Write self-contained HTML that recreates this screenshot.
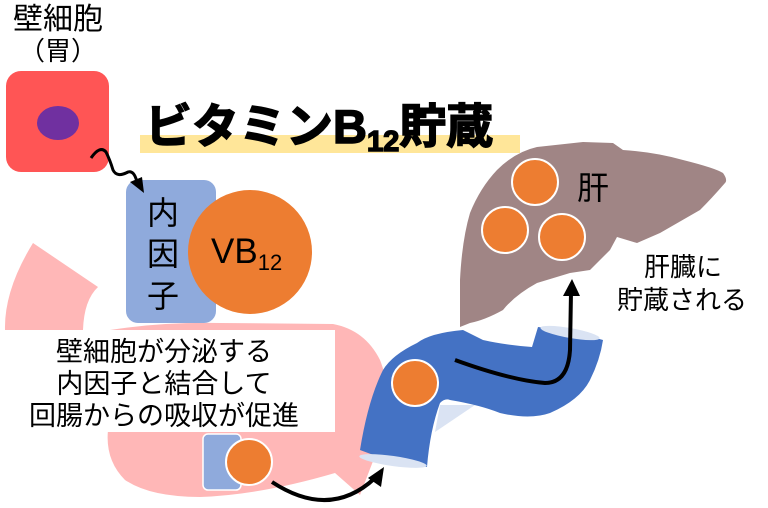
<!DOCTYPE html>
<html><head><meta charset="utf-8"><style>
html,body{margin:0;padding:0;background:#fff;}
svg{display:block;}
text{font-family:"Liberation Sans","Noto Sans CJK JP",sans-serif;}
</style></head><body>
<svg width="768" height="508" viewBox="0 0 768 508" xmlns="http://www.w3.org/2000/svg">
<!-- pink stomach pieces -->
<path d="M33,243 L98,287 Q84,300 83,330 L5,330 Q4,290 33,243 Z" fill="#FFB7B7"/>
<path d="M110,330 Q160,322 220,323 L333,324 Q365,330 380,360 Q392,390 385,430 L360,495 L335,473 Q260,495 200,497 Q150,497 125,480 Q105,460 108,430 Z" fill="#FFB7B7"/>
<!-- text box -->
<rect x="0" y="330" width="335" height="102" fill="#fff"/>
<text x="164" y="361" font-size="27" text-anchor="middle">壁細胞が分泌する</text>
<text x="164" y="393" font-size="27" text-anchor="middle">内因子と結合して</text>
<text x="164" y="425" font-size="27" text-anchor="middle">回腸からの吸収が促進</text>
<!-- small box+circle -->
<rect x="203" y="434" width="38" height="56" rx="5" fill="#8FAADC" stroke="#fff" stroke-width="1.5"/>
<circle cx="249" cy="462" r="23" fill="#ED7D31" stroke="#fff" stroke-width="2"/>
<!-- arrow to tube -->
<path d="M272,482 Q330,520 375,478" fill="none" stroke="#000" stroke-width="4"/>
<polygon points="384,467 381,487 368,478" fill="#000"/>
<!-- title -->
<rect x="140" y="135" width="380" height="18" fill="#FFE699"/>
<text x="145" y="143" font-size="47" font-weight="bold" font-family="'Noto Sans CJK JP',sans-serif" stroke="#000" stroke-width="1.5">ビタミンB<tspan font-size="29" dy="8">12</tspan><tspan dy="-8">貯蔵</tspan></text>
<!-- parietal cell -->
<text x="58" y="29" font-size="30" text-anchor="middle">壁細胞</text>
<text x="58" y="60" font-size="26" text-anchor="middle">（胃）</text>
<rect x="6" y="71" width="103" height="101" rx="15" fill="#FF5555"/>
<ellipse cx="58" cy="123" rx="21" ry="17" fill="#7030A0"/>
<!-- intrinsic factor -->
<rect x="126" y="180" width="90" height="143" rx="12" fill="#8FAADC"/>
<path d="M91,158 Q100,145 106,152 Q110,160 113,170 Q117,178 128,172 Q134,170 137,182" fill="none" stroke="#000" stroke-width="3"/>
<polygon points="144,193 130,182 142,177" fill="#000"/>
<text x="163" y="224" font-size="32" text-anchor="middle">内</text>
<text x="163" y="265" font-size="32" text-anchor="middle">因</text>
<text x="163" y="307" font-size="32" text-anchor="middle">子</text>
<circle cx="250" cy="252" r="62" fill="#ED7D31"/>
<text x="211" y="263" font-size="35">VB<tspan font-size="22" dy="7">12</tspan></text>
<!-- liver -->
<path d="M460,327 L460,280 Q462,240 470,213 Q480,188 497,170 Q515,152 537,147 L583,142 L613,143 L623,150 Q655,152 683,160 Q715,168 723,173 Q728,180 725,183 Q712,198 700,210 L660,233 L637,243 L617,237 L610,250 L590,270 L570,273 L537,283 Q515,295 503,310 Q485,320 470,323 Z" fill="#A08585"/>
<circle cx="535" cy="182" r="23" fill="#ED7D31" stroke="#fff" stroke-width="2"/>
<circle cx="505" cy="230" r="23" fill="#ED7D31" stroke="#fff" stroke-width="2"/>
<circle cx="562" cy="237" r="23" fill="#ED7D31" stroke="#fff" stroke-width="2"/>
<text x="593" y="199" font-size="32" text-anchor="middle">肝</text>
<text x="644" y="276" font-size="26">肝臓に</text>
<text x="617" y="309" font-size="26">貯蔵される</text>
<!-- tube -->
<polygon points="440,405 475,405 435,432" fill="#DAE3F3"/>
<path d="M463,330 Q430,333 417,343 Q392,355 383,370 Q368,400 360,450 Q390,462 427,467 Q430,430 440,403 Q445,398 450,400 Q480,405 500,413 Q530,420 550,413 Q580,400 590,380 Q600,360 603,340 Q570,330 538,327 L532,347 Q505,345 483,340 Z" fill="#4472C4"/>
<ellipse cx="393" cy="461" rx="34" ry="5" transform="rotate(8 393 461)" fill="#DAE3F3"/>
<ellipse cx="570" cy="333" rx="30" ry="5" transform="rotate(10 570 333)" fill="#DAE3F3"/>
<circle cx="415" cy="383" r="23" fill="#ED7D31" stroke="#fff" stroke-width="2"/>
<path d="M455,360 Q510,380 545,383 Q568,383 570,350 L571,292" fill="none" stroke="#000" stroke-width="4"/>
<polygon points="572,279 580,296 563,296" fill="#000"/>
</svg>
</body></html>
